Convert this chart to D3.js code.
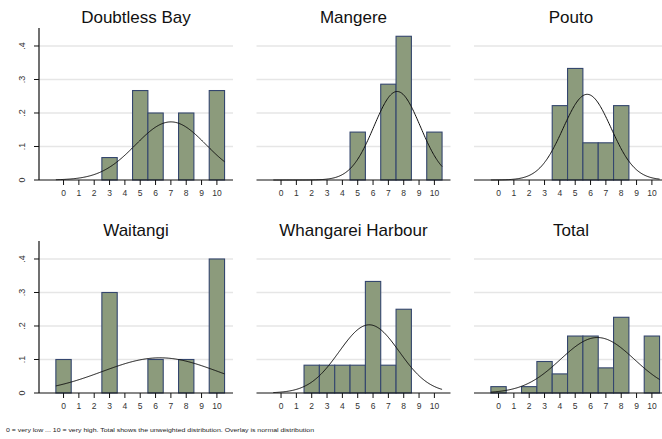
<!DOCTYPE html>
<html>
<head>
<meta charset="utf-8">
<script src="https://cdn.jsdelivr.net/npm/d3@7"></script>
<style>
  body { margin: 0; background: #fff; }
  svg { display: block; font-family: 'Liberation Sans', Arial, sans-serif; }
</style>
</head>
<body>
<div id="chart"></div>
<script>
// values (share of respondents per score)
const scores = [0, 1, 2, 3, 4, 5, 6, 7, 8, 9, 10]
const panelNames = ['Doubtless Bay', 'Mangere', 'Pouto', 'Waitangi', 'Whangarei Harbour', 'Total']
const doubtlessBay = [0, 0, 0, 0.067, 0, 0.267, 0.2, 0, 0.2, 0, 0.267]
const mangere = [0, 0, 0, 0, 0, 0.143, 0, 0.286, 0.429, 0, 0.143]
const pouto = [0, 0, 0, 0, 0.222, 0.333, 0.111, 0.111, 0.222, 0, 0]
const waitangi = [0.1, 0, 0, 0.3, 0, 0, 0.1, 0, 0.1, 0, 0.4]
const whangarei = [0, 0, 0.083, 0.083, 0.083, 0.083, 0.333, 0.083, 0.25, 0, 0]
const total = [0.019, 0, 0.019, 0.094, 0.057, 0.17, 0.17, 0.075, 0.226, 0, 0.17]
// normal overlay parameters per panel
const normalMean = [7.0, 7.57, 5.78, 6.3, 5.75, 6.45]
const normalSd = [2.3, 1.51, 1.56, 3.8, 1.96, 2.41]
const yTicks = [0, 0.1, 0.2, 0.3, 0.4]
const yTickLabels = ['0', '.1', '.2', '.3', '.4']
const footnote = '0 = very low ... 10 = very high. Total shows the unweighted distribution. Overlay is normal distribution'

const series = [doubtlessBay, mangere, pouto, waitangi, whangarei, total]

const width = 662, height = 439
const plotW = 194, plotH = 152
const colLeft = [39, 256.5, 474]
const rowTop = [28, 241]

const svg = d3.select('#chart').append('svg')
  .attr('width', width).attr('height', height)

const x = d3.scaleLinear().domain([-1.6, 11.05]).range([0, plotW])
const y = d3.scaleLinear().domain([0, 0.4537]).range([plotH, 0])

const normal = (m, s) => (v) => Math.exp(-0.5 * Math.pow((v - m) / s, 2)) / (s * Math.sqrt(2 * Math.PI))

const drawPanel = (i) => {
  const col = i % 3, row = Math.floor(i / 3)
  const g = svg.append('g')
    .attr('transform', 'translate(' + colLeft[col] + ',' + rowTop[row] + ')')
  const data = series[i].map((v, k) => ({score: scores[k], value: v}))

  // grid
  g.selectAll('line.grid')
    .data(yTicks.slice(1))
    .enter().append('line')
    .attr('class', 'grid')
    .attr('x1', 0).attr('x2', plotW)
    .attr('y1', (d) => y(d)).attr('y2', (d) => y(d))
    .attr('stroke', '#e6e6e6')
    .attr('stroke-width', 1.3)

  // bars
  g.selectAll('rect.bar')
    .data(data.filter((d) => d.value > 0))
    .enter().append('rect')
    .attr('class', 'bar')
    .attr('x', (d) => x(d.score - 0.5))
    .attr('width', (d) => x(d.score + 0.5) - x(d.score - 0.5))
    .attr('y', (d) => y(d.value))
    .attr('height', (d) => y(0) - y(d.value))
    .attr('fill', '#8c9b7c')
    .attr('stroke', '#34466e')
    .attr('stroke-width', 1.1)

  // normal overlay
  const f = normal(normalMean[i], normalSd[i])
  const pts = d3.range(-0.5, 10.501, 0.05)
  g.append('path')
    .datum(pts)
    .attr('fill', 'none')
    .attr('stroke', '#111')
    .attr('stroke-width', 1)
    .attr('d', d3.line().x((d) => x(d)).y((d) => y(f(d))))

  // x axis
  const xAxis = g.append('g')
    .attr('transform', 'translate(0,' + plotH + ')')
  xAxis.append('line')
    .attr('x1', 0).attr('x2', plotW)
    .attr('stroke', '#111').attr('stroke-width', 1.2)
  xAxis.selectAll('line.tick')
    .data(scores)
    .enter().append('line')
    .attr('class', 'tick')
    .attr('x1', (d) => x(d)).attr('x2', (d) => x(d))
    .attr('y1', 0).attr('y2', 5)
    .attr('stroke', '#111')
  xAxis.selectAll('text')
    .data(scores)
    .enter().append('text')
    .attr('x', (d) => x(d))
    .attr('y', 16)
    .attr('text-anchor', 'middle')
    .attr('font-size', 8.5)
    .attr('fill', '#333')
    .text((d) => d)

  // y axis only in the first column
  if (col === 0) {
    const yAxis = g.append('g')
    yAxis.append('line')
      .attr('x1', 0).attr('x2', 0)
      .attr('y1', 0).attr('y2', plotH)
      .attr('stroke', '#111').attr('stroke-width', 1.2)
    yAxis.selectAll('line.tick')
      .data(yTicks)
      .enter().append('line')
      .attr('class', 'tick')
      .attr('x1', -5).attr('x2', 0)
      .attr('y1', (d) => y(d)).attr('y2', (d) => y(d))
      .attr('stroke', '#111')
    yAxis.selectAll('text')
      .data(yTicks)
      .enter().append('text')
      .attr('transform', (d) => 'translate(-14,' + y(d) + ') rotate(-90)')
      .attr('text-anchor', 'middle')
      .attr('font-size', 9)
      .attr('fill', '#333')
      .text((d, k) => yTickLabels[k])
  }

  // title
  g.append('text')
    .attr('x', plotW / 2)
    .attr('y', -5)
    .attr('text-anchor', 'middle')
    .attr('font-size', 17)
    .attr('fill', '#111')
    .text(panelNames[i])
}

panelNames.forEach((name, i) => drawPanel(i))

svg.append('text')
  .attr('x', 6)
  .attr('y', 432)
  .attr('font-size', 6)
  .attr('fill', '#222')
  .attr('textLength', 308)
  .attr('lengthAdjust', 'spacingAndGlyphs')
  .text(footnote)
</script>
</body>
</html>
